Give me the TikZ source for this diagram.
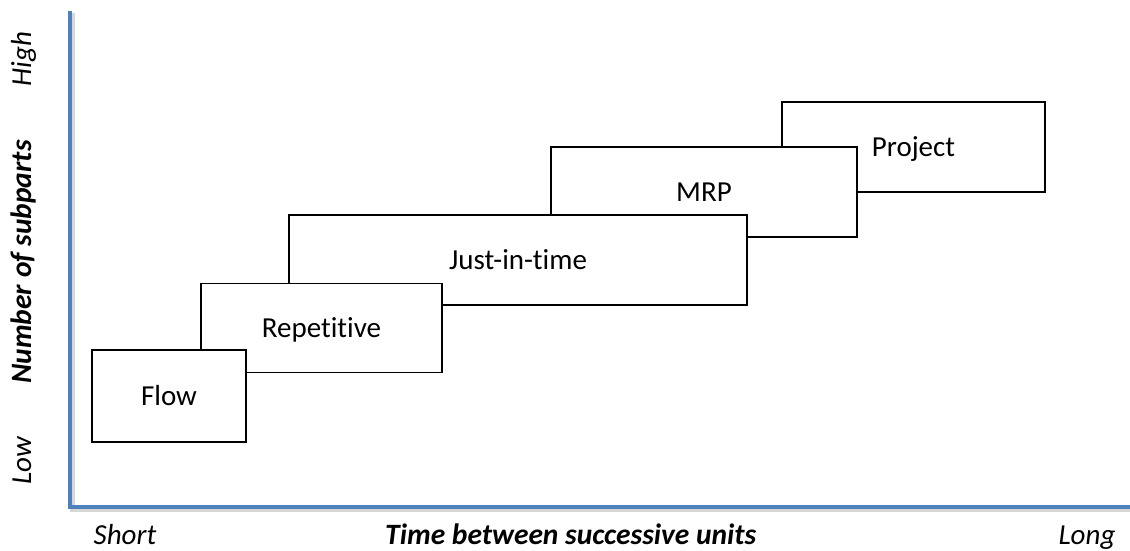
\documentclass[tikz,border=0pt]{standalone}
\usepackage{fontspec}
\setmainfont[Ligatures=NoCommon]{Carlito}
\begin{document}
\begin{tikzpicture}[x=1pt,y=-1pt,
  lbl/.style={font=\fontsize{29}{34}\selectfont, inner sep=0pt},
  axislbl/.style={lbl, font=\fontsize{29}{34}\selectfont\itshape},
  axistitle/.style={lbl, font=\fontsize{29.5}{34}\selectfont\bfseries\itshape},
  stage/.style={draw=black, line width=1.4pt, fill=white, rectangle,
    inner sep=0pt, font=\fontsize{29}{34}\selectfont,
    text height=18.5pt, text depth=0pt},
  axisline/.style={line width=4.5pt, draw={rgb,255:red,79;green,129;blue,189}},
  axisshadow/.style={line width=5pt, draw=black!35, opacity=0.45}
]
\useasboundingbox (0,0) rectangle (1130,550);

% axes
\coordinate (ytop) at (70,11);
\coordinate (orig) at (70,507);
\coordinate (xend) at (1130,507);
\coordinate (ytopS) at (72,13);
\coordinate (origS) at (72,509.5);
\coordinate (xendS) at (1130,509.5);
\draw[axisshadow] (ytopS) -- (origS) -- (xendS);
\draw[axisline, line join=miter] (ytop) -- (orig) -- (xend);

% stages, back to front
\node[stage, minimum width=263pt, minimum height=90pt] (proj) at (913.5,147) {Project};
\node[stage, minimum width=306pt, minimum height=90pt] (mrp) at (704,192) {MRP};
\node[stage, minimum width=458pt, minimum height=90pt] (jit) at (518,260) {Just-in-time};
\node[stage, minimum width=241pt, minimum height=89pt] (rep) at (321.5,328) {Repetitive};
\node[stage, minimum width=154pt, minimum height=92pt] (flow) at (169,396) {Flow};

% vertical axis labels
\node[axislbl, rotate=90, anchor=base] (high) at (31,59) {High};
\node[axistitle, rotate=90, anchor=base] (ytitle) at (31,262) {Number of subparts};
\node[axislbl, rotate=90, anchor=base] (low) at (31,461) {Low};

% horizontal axis labels
\node[axislbl, anchor=base] (short) at (125,544) {Short};
\node[axistitle, anchor=base west] (xtitle) at (385,544) {Time between successive units};
\node[axislbl, anchor=base] (long) at (1087,544) {Long};
\end{tikzpicture}
\end{document}
